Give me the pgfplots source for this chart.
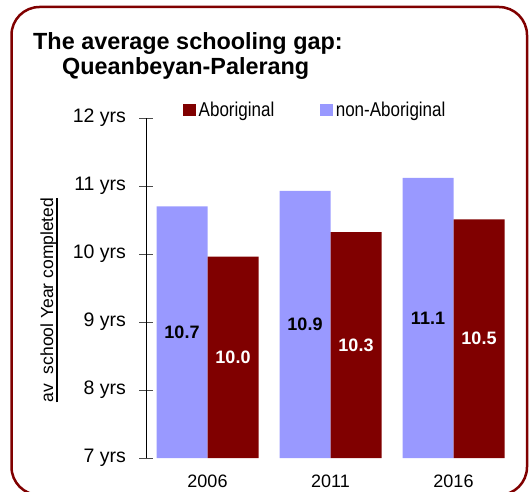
\documentclass[border=0pt]{standalone}
\usepackage{pgfplots}
\pgfplotsset{compat=1.18}
\usepackage{fontspec}
\setmainfont{Liberation Sans}
\newfontfamily\narrowfont[FakeStretch=0.85]{Liberation Sans}
\definecolor{darkred}{HTML}{800000}
\definecolor{lilac}{HTML}{9999FF}
\newcommand\ulbox[1]{\setbox0\hbox{#1}\rlap{\rule[-4.5pt]{\wd0}{1.4pt}}\box0}
\begin{document}
\begin{tikzpicture}[x=1pt,y=1pt]
\useasboundingbox (0,0) rectangle (532,491);
\begin{scope}
\clip (0,0) rectangle (532,491);
\draw[darkred, line width=2.5pt, rounded corners=28pt] (11.5,484) rectangle (527,-4);
\end{scope}
\node[anchor=base west, inner sep=0pt, font=\bfseries\fontsize{23.4}{24}\selectfont] at (33,441) {The average schooling gap:};
\node[anchor=base west, inner sep=0pt, font=\bfseries\fontsize{23.4}{24}\selectfont] at (62,416) {Queanbeyan-Palerang};
\node[rotate=90, anchor=base, inner sep=0pt, font=\fontsize{17.5}{18}\selectfont] at (53,191) {\ulbox{av\ \ school Year completed}};
\begin{axis}[
  at={(146pt,33pt)}, anchor=south west,
  scale only axis, width=369pt, height=340pt,
  xmin=-0.5, xmax=2.5, ymin=7, ymax=12,
  enlargelimits=false, clip=false,
  ybar=0pt, bar width=51pt,
  axis x line*=bottom, axis y line*=left,
  x axis line style={draw=none},
  y axis line style={black, line width=1pt},
  xtick={0,1,2}, xticklabels={2006,2011,2016},
  xtick style={draw=none},
  ytick={7,8,9,10,11,12},
  ytick style={black!70, line width=1pt},
  tick align=center, major tick length=13pt,
  /pgf/number format/assume math mode=true,
  yticklabel={\pgfmathprintnumber{\tick} yrs},
  yticklabel style={font=\fontsize{19.5}{20}\selectfont, xshift=-10pt},
  xticklabel style={font=\fontsize{18}{18}\selectfont, inner sep=0pt, yshift=-10.5pt},
  visualization depends on={rawy \as \rawy},
  nodes near coords={\pgfmathprintnumber[fixed,fixed zerofill,precision=1]{\pgfplotspointmeta}},
  every node near coord/.append style={anchor=center, font=\bfseries\fontsize{18}{18}\selectfont, yshift={-(\rawy-7)*34}},
  reverse legend, legend columns=2,
  legend style={at={(0.1003,1.0235)}, anchor=west, draw=none, fill=none, inner sep=0pt,
    font=\narrowfont\fontsize{20}{20}\selectfont,
    nodes={inner sep=0pt}, column sep=3pt,
    /tikz/every even column/.append style={column sep=46pt}},
  legend image code/.code={\fill[#1, draw=none] (0pt,-6pt) rectangle (12.5pt,6.5pt);},
]
\addplot[fill=lilac, draw=none, every node near coord/.append style={text=black}] coordinates {(0,10.70) (1,10.93) (2,11.12)};
\addplot[fill=darkred, draw=none, every node near coord/.append style={text=white}] coordinates {(0,9.96) (1,10.32) (2,10.51)};
\legend{non-Aboriginal, Aboriginal}
\end{axis}
\end{tikzpicture}
\end{document}
